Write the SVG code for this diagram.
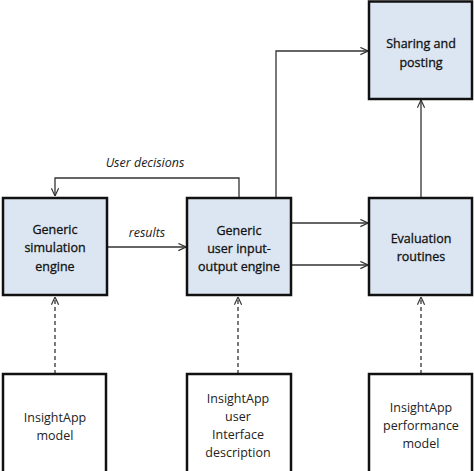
<svg xmlns="http://www.w3.org/2000/svg" width="474" height="471" viewBox="0 0 474 471">
<defs>
<style>
.box{fill:#dce6f2;stroke:#111;stroke-width:2.5}
.wbox{fill:#fff;stroke:#111;stroke-width:2.5}
.t{font-family:"Open Sans","Liberation Sans",sans-serif;font-size:12.5px;fill:#222;text-anchor:middle;dominant-baseline:central}
.b{fill:#111;stroke:#111;stroke-width:0.3}
.lbl{font-family:"Open Sans","Liberation Sans",sans-serif;font-size:12.5px;font-style:italic;fill:#1a1a1a;text-anchor:middle;dominant-baseline:central}
.c{fill:none;stroke:#333;stroke-width:1.3}
.d{fill:none;stroke:#333;stroke-width:1.3;stroke-dasharray:4,3}
</style>
<marker id="ah" viewBox="0 0 10 10" refX="9.5" refY="5" markerWidth="9" markerHeight="9" markerUnits="userSpaceOnUse" orient="auto">
<path d="M1,1 L9.5,5 L1,9" fill="none" stroke="#333" stroke-width="1.3"/>
</marker>
</defs>
<rect width="474" height="471" fill="#fff"/>
<g id="connectors">
<path class="c" d="M239,197 V178 H55 V196" marker-end="url(#ah)"/>
<path class="c" d="M107,247 H186" marker-end="url(#ah)"/>
<path class="c" d="M276,197 V51 H368" marker-end="url(#ah)"/>
<path class="c" d="M291,223 H368" marker-end="url(#ah)"/>
<path class="c" d="M291,265 H368" marker-end="url(#ah)"/>
<path class="c" d="M421,197 V100" marker-end="url(#ah)"/>
<path class="d" d="M55,374 V297" marker-end="url(#ah)"/>
<path class="d" d="M238,374 V297" marker-end="url(#ah)"/>
<path class="d" d="M421,374 V297" marker-end="url(#ah)"/>
<text class="lbl" x="145" y="162">User decisions</text>
<text class="lbl" x="147" y="232">results</text>
</g>
<g id="sim">
<rect class="box" x="3" y="198" width="104" height="97"/>
<text class="t b" x="55" y="229">Generic</text>
<text class="t b" x="55" y="247">simulation</text>
<text class="t b" x="55" y="266">engine</text>
</g>
<g id="io">
<rect class="box" x="187" y="198" width="104" height="97"/>
<text class="t b" x="239" y="230">Generic</text>
<text class="t b" x="239" y="248">user input-</text>
<text class="t b" x="239" y="266">output engine</text>
</g>
<g id="eval">
<rect class="box" x="369" y="198" width="103" height="97"/>
<text class="t b" x="421" y="238">Evaluation</text>
<text class="t b" x="421" y="256">routines</text>
</g>
<g id="share">
<rect class="box" x="369" y="1.5" width="103" height="97.5"/>
<text class="t b" x="421" y="43">Sharing and</text>
<text class="t b" x="421" y="62">posting</text>
</g>
<g id="model">
<rect class="wbox" x="3" y="374" width="103" height="100"/>
<text class="t" x="55" y="417">InsightApp</text>
<text class="t" x="55" y="435">model</text>
</g>
<g id="ui">
<rect class="wbox" x="187" y="374" width="104" height="100"/>
<text class="t" x="238" y="398">InsightApp</text>
<text class="t" x="238" y="416">user</text>
<text class="t" x="238" y="434">Interface</text>
<text class="t" x="238" y="452">description</text>
</g>
<g id="perf">
<rect class="wbox" x="369" y="374" width="103" height="100"/>
<text class="t" x="421" y="407">InsightApp</text>
<text class="t" x="421" y="425">performance</text>
<text class="t" x="421" y="443">model</text>
</g>
</svg>
